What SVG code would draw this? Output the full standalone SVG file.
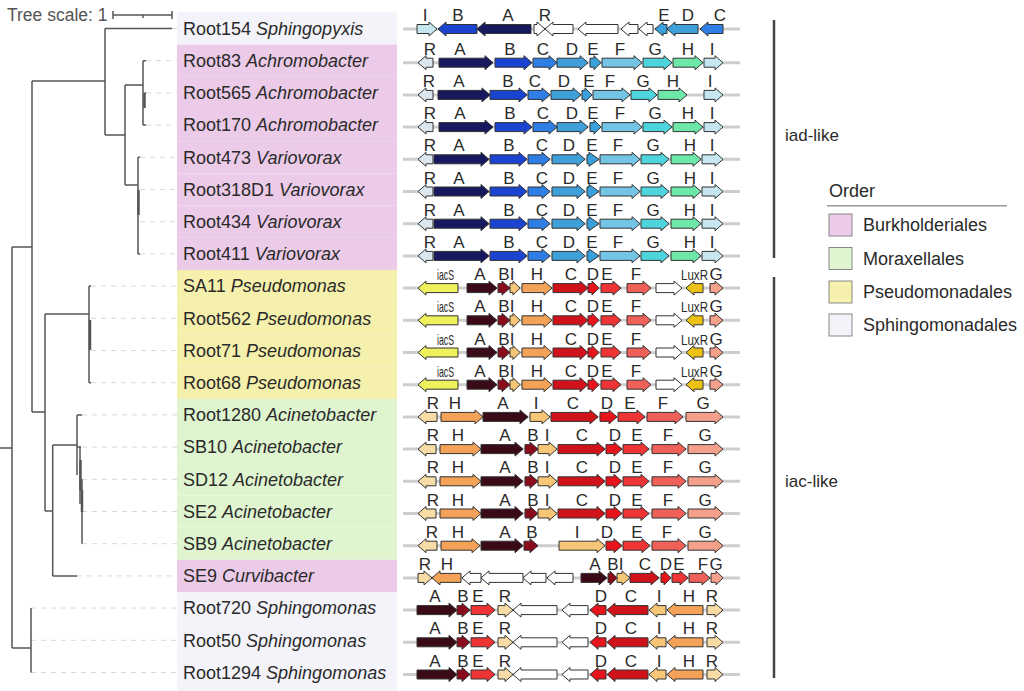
<svg xmlns="http://www.w3.org/2000/svg" xmlns:xlink="http://www.w3.org/1999/xlink" width="1024" height="691" viewBox="0 0 1024 691">
<style>
text{font-family:"Liberation Sans",Arial,sans-serif;fill:#2a2a2a}
.lab{font-size:18px}
.gl{font-size:17px;text-anchor:middle}
.sm{font-size:15px}
.g path{stroke:#333;stroke-width:1}
.g path.bg{stroke:#cdcdcd;stroke-width:3;fill:none}
.tr{stroke:#555;stroke-width:1.5;fill:none}
.tk{stroke:#555;stroke-width:2.5;fill:none}
.ld{stroke:#d8d8d8;stroke-width:1;stroke-dasharray:5 5;fill:none}
.bA{fill:#16195e}.bB{fill:#1a44d0}.bC{fill:#2e7ee6}.bD{fill:#3f9fd8}.bE{fill:#3aa0dc}.bF{fill:#74c4e6}.bG{fill:#4dd4dc}.bH{fill:#6ee8a8}.bI{fill:#c6e6f0}.bR{fill:#dce6ee}
.rA{fill:#3a0a16}.rB{fill:#8a0c1c}.rC{fill:#d0121a}.rD{fill:#e8141c}.rE{fill:#ee3434}.rF{fill:#ef6058}.rG{fill:#f4a08a}.rH{fill:#f4a258}.rI{fill:#f7c677}.rR{fill:#f7dca6}.rS{fill:#eef05c}.rL{fill:#eec214}.w{fill:#fff}
.pk{fill:#eccbe9}.gn{fill:#dff5cf}.yl{fill:#f6f0ad}.lv{fill:#f3f3f9}
.side{stroke:#444;stroke-width:2.5}
.lg{font-size:18px}
.sq{stroke:#888;stroke-width:1}
</style>
<defs>
<g id="t0" class="g">
<path class="bg" d="M403,0H740"/>
<path class="bI" d="M417,-4.5H429V-7L437,0L429,7V4.5H417Z"/>
<path class="bB" d="M477,-4.5H446V-7L438,0L446,7V4.5H477Z"/>
<path class="bA" d="M531,-4.5H485V-7L477,0L485,7V4.5H531Z"/>
<path class="w" d="M534,-4.5H537V-7L545,0L537,7V4.5H534Z"/>
<path class="w" d="M573,-4.5H553V-7L545,0L553,7V4.5H573Z"/>
<path class="w" d="M618,-4.5H586V-7L578,0L586,7V4.5H618Z"/>
<path class="w" d="M638,-4.5H629V-7L621,0L629,7V4.5H638Z"/>
<path class="w" d="M653,-4.5H647V-7L639,0L647,7V4.5H653Z"/>
<path class="bE" d="M667,-4.5H663V-7L655,0L663,7V4.5H667Z"/>
<path class="bD" d="M698,-4.5H675V-7L667,0L675,7V4.5H698Z"/>
<path class="bC" d="M723,-4.5H708V-7L700,0L708,7V4.5H723Z"/>
<text class="gl" x="425" y="-8">I</text><text class="gl" x="458" y="-8">B</text><text class="gl" x="508" y="-8">A</text><text class="gl" x="545" y="-8">R</text><text class="gl" x="664" y="-8">E</text><text class="gl" x="688" y="-8">D</text><text class="gl" x="720" y="-8">C</text>
</g>
<g id="t1" class="g">
<path class="bg" d="M403,0H740"/>
<path class="bR" d="M433,-4.5H426V-7L418,0L426,7V4.5H433Z"/>
<path class="bA" d="M439,-4.5H485V-7L493,0L485,7V4.5H439Z"/>
<path class="bB" d="M495,-4.5H524V-7L532,0L524,7V4.5H495Z"/>
<path class="bC" d="M533,-4.5H549V-7L557,0L549,7V4.5H533Z"/>
<path class="bD" d="M557,-4.5H580V-7L588,0L580,7V4.5H557Z"/>
<path class="bE" d="M590,-4.5H594V-7L601,0L594,7V4.5H590Z"/>
<path class="bF" d="M602,-4.5H634V-7L642,0L634,7V4.5H602Z"/>
<path class="bG" d="M643,-4.5H664V-7L672,0L664,7V4.5H643Z"/>
<path class="bH" d="M673,-4.5H695V-7L703,0L695,7V4.5H673Z"/>
<path class="bI" d="M704,-4.5H715V-7L723,0L715,7V4.5H704Z"/>
<text class="gl" x="430" y="-8">R</text><text class="gl" x="460" y="-8">A</text><text class="gl" x="510" y="-8">B</text><text class="gl" x="543" y="-8">C</text><text class="gl" x="572" y="-8">D</text><text class="gl" x="593" y="-8">E</text><text class="gl" x="620" y="-8">F</text><text class="gl" x="655" y="-8">G</text><text class="gl" x="688" y="-8">H</text><text class="gl" x="712" y="-8">I</text>
</g>
<g id="t2" class="g">
<path class="bg" d="M403,0H740"/>
<path class="bR" d="M433,-4.5H426V-7L418,0L426,7V4.5H433Z"/>
<path class="bA" d="M438,-4.5H482V-7L490,0L482,7V4.5H438Z"/>
<path class="bB" d="M490,-4.5H519V-7L527,0L519,7V4.5H490Z"/>
<path class="bC" d="M528,-4.5H542V-7L550,0L542,7V4.5H528Z"/>
<path class="bD" d="M551,-4.5H573V-7L581,0L573,7V4.5H551Z"/>
<path class="bE" d="M582,-4.5H585V-7L592,0L585,7V4.5H582Z"/>
<path class="bF" d="M593,-4.5H622V-7L630,0L622,7V4.5H593Z"/>
<path class="bG" d="M631,-4.5H649V-7L657,0L649,7V4.5H631Z"/>
<path class="bH" d="M658,-4.5H679V-7L687,0L679,7V4.5H658Z"/>
<path class="bI" d="M704,-4.5H715V-7L723,0L715,7V4.5H704Z"/>
<text class="gl" x="429" y="-8">R</text><text class="gl" x="459" y="-8">A</text><text class="gl" x="508" y="-8">B</text><text class="gl" x="535" y="-8">C</text><text class="gl" x="564" y="-8">D</text><text class="gl" x="589" y="-8">E</text><text class="gl" x="610" y="-8">F</text><text class="gl" x="643" y="-8">G</text><text class="gl" x="673" y="-8">H</text><text class="gl" x="710" y="-8">I</text>
</g>
<g id="t4" class="g">
<path class="bg" d="M403,0H740"/>
<path class="bR" d="M433,-4.5H426V-7L418,0L426,7V4.5H433Z"/>
<path class="bA" d="M434,-4.5H481V-7L489,0L481,7V4.5H434Z"/>
<path class="bB" d="M490,-4.5H519V-7L527,0L519,7V4.5H490Z"/>
<path class="bC" d="M528,-4.5H542V-7L550,0L542,7V4.5H528Z"/>
<path class="bD" d="M552,-4.5H577V-7L585,0L577,7V4.5H552Z"/>
<path class="bE" d="M587,-4.5H589V-7L599,0L589,7V4.5H587Z"/>
<path class="bF" d="M600,-4.5H632V-7L640,0L632,7V4.5H600Z"/>
<path class="bG" d="M641,-4.5H661V-7L669,0L661,7V4.5H641Z"/>
<path class="bH" d="M671,-4.5H693V-7L701,0L693,7V4.5H671Z"/>
<path class="bI" d="M702,-4.5H715V-7L723,0L715,7V4.5H702Z"/>
<text class="gl" x="430" y="-8">R</text><text class="gl" x="459" y="-8">A</text><text class="gl" x="509" y="-8">B</text><text class="gl" x="542" y="-8">C</text><text class="gl" x="569" y="-8">D</text><text class="gl" x="592" y="-8">E</text><text class="gl" x="618" y="-8">F</text><text class="gl" x="653" y="-8">G</text><text class="gl" x="690" y="-8">H</text><text class="gl" x="712" y="-8">I</text>
</g>
<g id="t8" class="g">
<path class="bg" d="M403,0H740"/>
<path class="rS" d="M458,-4.5H426V-7L418,0L426,7V4.5H458Z"/>
<path class="rA" d="M467,-4.5H489V-7L497,0L489,7V4.5H467Z"/>
<path class="rB" d="M498,-4.5H502V-7L510,0L502,7V4.5H498Z"/>
<path class="rI" d="M510,-4.5H513V-7L520,0L513,7V4.5H510Z"/>
<path class="rH" d="M522,-4.5H544V-7L552,0L544,7V4.5H522Z"/>
<path class="rC" d="M553,-4.5H580V-7L588,0L580,7V4.5H553Z"/>
<path class="rD" d="M588,-4.5H592V-7L599,0L592,7V4.5H588Z"/>
<path class="rE" d="M601,-4.5H613V-7L621,0L613,7V4.5H601Z"/>
<path class="rF" d="M627,-4.5H643V-7L651,0L643,7V4.5H627Z"/>
<path class="w" d="M656,-4.5H674V-7L682,0L674,7V4.5H656Z"/>
<path class="rL" d="M703,-4.5H694V-7L686,0L694,7V4.5H703Z"/>
<path class="rG" d="M710,-4.5H715V-7L723,0L715,7V4.5H710Z"/>
<text class="sm" x="437" y="-8" textLength="17" lengthAdjust="spacingAndGlyphs">iacS</text>
<text class="gl" x="480" y="-8">A</text><text class="gl" x="504" y="-8">B</text><text class="gl" x="512" y="-8">I</text><text class="gl" x="537" y="-8">H</text><text class="gl" x="571" y="-8">C</text><text class="gl" x="593" y="-8">D</text><text class="gl" x="607" y="-8">E</text><text class="gl" x="636" y="-8">F</text>
<text class="sm" x="681" y="-8" textLength="27" lengthAdjust="spacingAndGlyphs">LuxR</text>
<text class="gl" x="716" y="-8">G</text>
</g>
<g id="t12" class="g">
<path class="bg" d="M403,0H740"/>
<path class="rR" d="M437,-4.5H426V-7L418,0L426,7V4.5H437Z"/>
<path class="rH" d="M441,-4.5H475V-7L483,0L475,7V4.5H441Z"/>
<path class="rA" d="M483,-4.5H520V-7L528,0L520,7V4.5H483Z"/>
<path class="rI" d="M530,-4.5H542V-7L550,0L542,7V4.5H530Z"/>
<path class="rC" d="M551,-4.5H590V-7L598,0L590,7V4.5H551Z"/>
<path class="rD" d="M600,-4.5H609V-7L617,0L609,7V4.5H600Z"/>
<path class="rE" d="M618,-4.5H637V-7L645,0L637,7V4.5H618Z"/>
<path class="rF" d="M647,-4.5H675V-7L683,0L675,7V4.5H647Z"/>
<path class="rG" d="M686,-4.5H715V-7L723,0L715,7V4.5H686Z"/>
<text class="gl" x="433" y="-8">R</text><text class="gl" x="455" y="-8">H</text><text class="gl" x="503" y="-8">A</text><text class="gl" x="536" y="-8">I</text><text class="gl" x="573" y="-8">C</text><text class="gl" x="607" y="-8">D</text><text class="gl" x="630" y="-8">E</text><text class="gl" x="663" y="-8">F</text><text class="gl" x="703" y="-8">G</text>
</g>
<g id="t13" class="g">
<path class="bg" d="M403,0H740"/>
<path class="rR" d="M436,-4.5H426V-7L418,0L426,7V4.5H436Z"/>
<path class="rH" d="M440,-4.5H473V-7L481,0L473,7V4.5H440Z"/>
<path class="rA" d="M481,-4.5H515V-7L523,0L515,7V4.5H481Z"/>
<path class="rB" d="M525,-4.5H530V-7L538,0L530,7V4.5H525Z"/>
<path class="rI" d="M538,-4.5H549V-7L557,0L549,7V4.5H538Z"/>
<path class="rC" d="M558,-4.5H597V-7L605,0L597,7V4.5H558Z"/>
<path class="rD" d="M606,-4.5H614V-7L622,0L614,7V4.5H606Z"/>
<path class="rE" d="M623,-4.5H641V-7L649,0L641,7V4.5H623Z"/>
<path class="rF" d="M652,-4.5H678V-7L686,0L678,7V4.5H652Z"/>
<path class="rG" d="M688,-4.5H715V-7L723,0L715,7V4.5H688Z"/>
<text class="gl" x="433" y="-8">R</text><text class="gl" x="458" y="-8">H</text><text class="gl" x="505" y="-8">A</text><text class="gl" x="533" y="-8">B</text><text class="gl" x="547" y="-8">I</text><text class="gl" x="582" y="-8">C</text><text class="gl" x="615" y="-8">D</text><text class="gl" x="637" y="-8">E</text><text class="gl" x="668" y="-8">F</text><text class="gl" x="705" y="-8">G</text>
</g>
<g id="t16" class="g">
<path class="bg" d="M403,0H740"/>
<path class="rR" d="M437,-4.5H426V-7L418,0L426,7V4.5H437Z"/>
<path class="rH" d="M441,-4.5H472V-7L480,0L472,7V4.5H441Z"/>
<path class="rA" d="M481,-4.5H515V-7L523,0L515,7V4.5H481Z"/>
<path class="rB" d="M524,-4.5H530V-7L538,0L530,7V4.5H524Z"/>
<path class="rI" d="M559,-4.5H597V-7L605,0L597,7V4.5H559Z"/>
<path class="rD" d="M606,-4.5H614V-7L622,0L614,7V4.5H606Z"/>
<path class="rE" d="M623,-4.5H642V-7L650,0L642,7V4.5H623Z"/>
<path class="rF" d="M652,-4.5H678V-7L686,0L678,7V4.5H652Z"/>
<path class="rG" d="M688,-4.5H715V-7L723,0L715,7V4.5H688Z"/>
<text class="gl" x="432" y="-8">R</text><text class="gl" x="458" y="-8">H</text><text class="gl" x="505" y="-8">A</text><text class="gl" x="532" y="-8">B</text><text class="gl" x="577" y="-8">I</text><text class="gl" x="607" y="-8">D</text><text class="gl" x="637" y="-8">E</text><text class="gl" x="667" y="-8">F</text><text class="gl" x="705" y="-8">G</text>
</g>
<g id="t17" class="g">
<path class="bg" d="M403,0H740"/>
<path class="rR" d="M418,-4.5H424V-7L432,0L424,7V4.5H418Z"/>
<path class="rH" d="M461,-4.5H440V-7L432,0L440,7V4.5H461Z"/>
<path class="w" d="M481,-4.5H470V-7L462,0L470,7V4.5H481Z"/>
<path class="w" d="M523,-4.5H489V-7L481,0L489,7V4.5H523Z"/>
<path class="w" d="M546,-4.5H531V-7L523,0L531,7V4.5H546Z"/>
<path class="w" d="M573,-4.5H555V-7L547,0L555,7V4.5H573Z"/>
<path class="rA" d="M581,-4.5H599V-7L607,0L599,7V4.5H581Z"/>
<path class="rB" d="M608,-4.5H610V-7L617,0L610,7V4.5H608Z"/>
<path class="rI" d="M617,-4.5H622V-7L630,0L622,7V4.5H617Z"/>
<path class="rC" d="M630,-4.5H651V-7L659,0L651,7V4.5H630Z"/>
<path class="rD" d="M661,-4.5H664V-7L671,0L664,7V4.5H661Z"/>
<path class="rE" d="M672,-4.5H680V-7L688,0L680,7V4.5H672Z"/>
<path class="rF" d="M689,-4.5H702V-7L710,0L702,7V4.5H689Z"/>
<path class="rG" d="M711,-4.5H716V-7L723,0L716,7V4.5H711Z"/>
<text class="gl" x="425" y="-8">R</text><text class="gl" x="447" y="-8">H</text><text class="gl" x="595" y="-8">A</text><text class="gl" x="613" y="-8">B</text><text class="gl" x="621" y="-8">I</text><text class="gl" x="645" y="-8">C</text><text class="gl" x="666" y="-8">D</text><text class="gl" x="679" y="-8">E</text><text class="gl" x="703" y="-8">F</text><text class="gl" x="716" y="-8">G</text>
</g>
<g id="t18" class="g">
<path class="bg" d="M403,0H740"/>
<path class="rA" d="M417,-4.5H449V-7L457,0L449,7V4.5H417Z"/>
<path class="rB" d="M457,-4.5H462V-7L470,0L462,7V4.5H457Z"/>
<path class="rE" d="M471,-4.5H487V-7L495,0L487,7V4.5H471Z"/>
<path class="rR" d="M498,-4.5H505V-7L513,0L505,7V4.5H498Z"/>
<path class="w" d="M557,-4.5H521V-7L513,0L521,7V4.5H557Z"/>
<path class="w" d="M588,-4.5H570V-7L562,0L570,7V4.5H588Z"/>
<path class="rD" d="M606,-4.5H598V-7L590,0L598,7V4.5H606Z"/>
<path class="rC" d="M648,-4.5H615V-7L607,0L615,7V4.5H648Z"/>
<path class="rI" d="M666,-4.5H657V-7L649,0L657,7V4.5H666Z"/>
<path class="rH" d="M703,-4.5H675V-7L667,0L675,7V4.5H703Z"/>
<path class="rR" d="M707,-4.5H715V-7L723,0L715,7V4.5H707Z"/>
<text class="gl" x="435" y="-8">A</text><text class="gl" x="463" y="-8">B</text><text class="gl" x="478" y="-8">E</text><text class="gl" x="505" y="-8">R</text><text class="gl" x="601" y="-8">D</text><text class="gl" x="631" y="-8">C</text><text class="gl" x="659" y="-8">I</text><text class="gl" x="689" y="-8">H</text><text class="gl" x="712" y="-8">R</text>
</g>
</defs>
<rect width="1024" height="691" fill="#fff"/>

<g id="scale">
<text x="7" y="21" style="font-size:17.5px;fill:#555">Tree scale: 1</text>
<path class="tr" d="M113,15H172M113,11V19M172,11V19M143,15V18"/>
</g>

<g id="tree">
<path class="ld" d="M172,28.5H177M146,60.7H177M146,92.9H177M146,125.1H177M140,157.3H177M140,189.5H177M140,221.7H177M140,253.9H177M91,286.1H177M91,318.3H177M91,350.5H177M91,382.7H177M82,414.9H177M82,447.1H177M82,479.3H177M82,511.5H177M82,543.7H177M77,575.9H177M31,608.1H177M31,640.3H177M31,672.5H177"/>
<path class="tr" d="M0,448H12M12,247V648M12,247H32M32,81V412M32,81H105M105,28.5V135M105,28.5H172M105,135H125M125,85V185M125,85H143M143,60.7V125.1M143,60.7H146M143,125.1H146M144.5,92.9H146M125,185H138M138,157.3V253.9M138,157.3H140M138,253.9H140M32,412H45M45,314V511M45,314H89M89,286.1V382.7M89,286.1H91M89,382.7H91M45,511H52.7M52.7,445V575.9M52.7,575.9H77M52.7,445H77M77,414.9V475M77,414.9H82M77,447.1H81M80,447.1V504M82,479.3V543.7M80,490H82M12,648H31M31,608.1V672.5"/>
<path class="tk" d="M144.5,93V108M138.5,190V215M90,320V350M80.5,460V490M82,490V512"/>
</g>

<g id="row0"><rect class="lv" x="177" y="12.4" width="220" height="32.2"/><text class="lab" x="183" y="34.8">Root154 <tspan font-style="italic">Sphingopyxis</tspan></text><use xlink:href="#t0" href="#t0" y="29"/></g>
<g id="row1"><rect class="pk" x="177" y="44.6" width="220" height="32.2"/><text class="lab" x="183" y="67">Root83 <tspan font-style="italic">Achromobacter</tspan></text><use xlink:href="#t1" href="#t1" y="62.7"/></g>
<g id="row2"><rect class="pk" x="177" y="76.8" width="220" height="32.2"/><text class="lab" x="183" y="99.2">Root565 <tspan font-style="italic">Achromobacter</tspan></text><use xlink:href="#t2" href="#t2" y="94.9"/></g>
<g id="row3"><rect class="pk" x="177" y="109" width="220" height="32.2"/><text class="lab" x="183" y="131.4">Root170 <tspan font-style="italic">Achromobacter</tspan></text><use xlink:href="#t1" href="#t1" y="127.1"/></g>
<g id="row4"><rect class="pk" x="177" y="141.2" width="220" height="32.2"/><text class="lab" x="183" y="163.6">Root473 <tspan font-style="italic">Variovorax</tspan></text><use xlink:href="#t4" href="#t4" y="159.3"/></g>
<g id="row5"><rect class="pk" x="177" y="173.4" width="220" height="32.2"/><text class="lab" x="183" y="195.8">Root318D1 <tspan font-style="italic">Variovorax</tspan></text><use xlink:href="#t4" href="#t4" y="191.5"/></g>
<g id="row6"><rect class="pk" x="177" y="205.6" width="220" height="32.2"/><text class="lab" x="183" y="228">Root434 <tspan font-style="italic">Variovorax</tspan></text><use xlink:href="#t4" href="#t4" y="223.7"/></g>
<g id="row7"><rect class="pk" x="177" y="237.8" width="220" height="32.2"/><text class="lab" x="183" y="260.2">Root411 <tspan font-style="italic">Variovorax</tspan></text><use xlink:href="#t4" href="#t4" y="255.9"/></g>
<g id="row8"><rect class="yl" x="177" y="270" width="220" height="32.2"/><text class="lab" x="183" y="292.4">SA11 <tspan font-style="italic">Pseudomonas</tspan></text><use xlink:href="#t8" href="#t8" y="288.1"/></g>
<g id="row9"><rect class="yl" x="177" y="302.2" width="220" height="32.2"/><text class="lab" x="183" y="324.6">Root562 <tspan font-style="italic">Pseudomonas</tspan></text><use xlink:href="#t8" href="#t8" y="320.3"/></g>
<g id="row10"><rect class="yl" x="177" y="334.4" width="220" height="32.2"/><text class="lab" x="183" y="356.8">Root71 <tspan font-style="italic">Pseudomonas</tspan></text><use xlink:href="#t8" href="#t8" y="352.5"/></g>
<g id="row11"><rect class="yl" x="177" y="366.6" width="220" height="32.2"/><text class="lab" x="183" y="389">Root68 <tspan font-style="italic">Pseudomonas</tspan></text><use xlink:href="#t8" href="#t8" y="384.7"/></g>
<g id="row12"><rect class="gn" x="177" y="398.8" width="220" height="32.2"/><text class="lab" x="183" y="421.2">Root1280 <tspan font-style="italic">Acinetobacter</tspan></text><use xlink:href="#t12" href="#t12" y="416.9"/></g>
<g id="row13"><rect class="gn" x="177" y="431" width="220" height="32.2"/><text class="lab" x="183" y="453.4">SB10 <tspan font-style="italic">Acinetobacter</tspan></text><use xlink:href="#t13" href="#t13" y="449.1"/></g>
<g id="row14"><rect class="gn" x="177" y="463.2" width="220" height="32.2"/><text class="lab" x="183" y="485.6">SD12 <tspan font-style="italic">Acinetobacter</tspan></text><use xlink:href="#t13" href="#t13" y="481.3"/></g>
<g id="row15"><rect class="gn" x="177" y="495.4" width="220" height="32.2"/><text class="lab" x="183" y="517.8">SE2 <tspan font-style="italic">Acinetobacter</tspan></text><use xlink:href="#t13" href="#t13" y="513.5"/></g>
<g id="row16"><rect class="gn" x="177" y="527.6" width="220" height="32.2"/><text class="lab" x="183" y="550">SB9 <tspan font-style="italic">Acinetobacter</tspan></text><use xlink:href="#t16" href="#t16" y="545.7"/></g>
<g id="row17"><rect class="pk" x="177" y="559.8" width="220" height="32.2"/><text class="lab" x="183" y="582.2">SE9 <tspan font-style="italic">Curvibacter</tspan></text><use xlink:href="#t17" href="#t17" y="577.9"/></g>
<g id="row18"><rect class="lv" x="177" y="592" width="220" height="32.2"/><text class="lab" x="183" y="614.4">Root720 <tspan font-style="italic">Sphingomonas</tspan></text><use xlink:href="#t18" href="#t18" y="610.1"/></g>
<g id="row19"><rect class="lv" x="177" y="624.2" width="220" height="32.2"/><text class="lab" x="183" y="646.6">Root50 <tspan font-style="italic">Sphingomonas</tspan></text><use xlink:href="#t18" href="#t18" y="642.3"/></g>
<g id="row20"><rect class="lv" x="177" y="656.4" width="220" height="34.6"/><text class="lab" x="183" y="678.8">Root1294 <tspan font-style="italic">Sphingomonas</tspan></text><use xlink:href="#t18" href="#t18" y="674.5"/></g>

<g id="groups">
<path class="side" d="M774,20V258M774,277V678"/>
<text x="785" y="141" style="font-size:17px">iad-like</text>
<text x="785" y="487" style="font-size:17px">iac-like</text>
</g>

<g id="legend">
<text class="lg" x="829" y="197">Order</text>
<path d="M827,205.7H1007" stroke="#999" stroke-width="1.5"/>
<rect class="pk sq" x="829" y="214" width="23" height="22"/>
<rect class="gn sq" x="829" y="247.5" width="23" height="22"/>
<rect class="yl sq" x="829" y="281" width="23" height="22"/>
<rect class="lv sq" x="829" y="314" width="23" height="22"/>
<text class="lg" x="863" y="231">Burkholderiales</text>
<text class="lg" x="863" y="264.5">Moraxellales</text>
<text class="lg" x="863" y="298">Pseudomonadales</text>
<text class="lg" x="863" y="331">Sphingomonadales</text>
</g>
</svg>
